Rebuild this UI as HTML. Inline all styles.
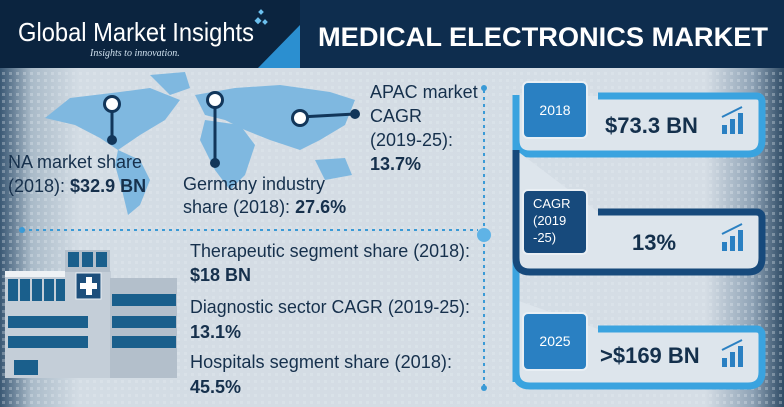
<!DOCTYPE html>
<html><head><meta charset="utf-8"><style>
html,body{margin:0;padding:0;width:784px;height:407px;overflow:hidden}
svg{display:block;font-family:"Liberation Sans",Arial,sans-serif}
</style></head><body>
<svg width="784" height="407" viewBox="0 0 784 407">
<defs>
<linearGradient id="bg" x1="0" y1="0" x2="1" y2="0">
<stop offset="0" stop-color="#3a5874"/><stop offset="0.04" stop-color="#a9bac8"/><stop offset="0.1" stop-color="#d3dce4"/><stop offset="0.9" stop-color="#d5dde5"/><stop offset="0.96" stop-color="#8fa3b6"/><stop offset="1" stop-color="#2e4a64"/>
</linearGradient>
<pattern id="dots" width="7" height="7" patternUnits="userSpaceOnUse"><rect x="2" y="2" width="3" height="3" fill="#e6ecf1" opacity="0.6"/></pattern>
</defs>
<rect width="784" height="407" fill="url(#bg)"/>
<rect y="68" width="784" height="339" fill="url(#dots)" opacity="0.5"/>
<g>
<rect width="784" height="68" fill="#0e2d4e"/>
<rect width="300" height="68" fill="#0b243f"/>
<polygon points="300,25 300,68 258,68" fill="#2b8fd0"/>
<text x="18" y="41" font-size="26" fill="#fff" textLength="236" lengthAdjust="spacingAndGlyphs">Global Market Insights</text>
<text x="90" y="56" font-size="10" font-style="italic" font-family="Liberation Serif,serif" fill="#cfe0ee">Insights to innovation.</text>
<g fill="#6cc0ee"><rect x="259" y="10" width="4" height="4" transform="rotate(45 261 12)"/><rect x="256" y="18" width="5" height="5" transform="rotate(45 258 20)"/><rect x="263" y="20" width="4" height="4" transform="rotate(45 265 22)"/></g>
<text x="318" y="46" font-size="27" font-weight="bold" fill="#fff" textLength="450" lengthAdjust="spacingAndGlyphs">MEDICAL ELECTRONICS MARKET</text>
</g>
<g fill="#7fb8e0">
<path d="M45,118 L70,98 L120,92 L150,88 L180,100 L165,120 L140,135 L118,150 L100,138 L75,125 Z"/>
<path d="M150,75 L185,72 L190,88 L170,95 Z"/>
<path d="M118,150 L140,160 L150,180 L140,205 L128,215 L122,190 L115,165 Z"/>
<path d="M195,95 L235,88 L280,85 L330,92 L355,100 L345,125 L320,140 L300,150 L270,140 L245,130 L225,120 L205,115 Z"/>
<path d="M205,120 L240,125 L255,145 L245,175 L230,190 L215,170 L200,140 Z"/>
<path d="M315,160 L345,158 L352,175 L325,180 Z"/>
</g>
<line x1="22" y1="230" x2="478" y2="230" stroke="#3a9ad6" stroke-width="2" stroke-dasharray="3,4"/>
<line x1="484" y1="90" x2="484" y2="388" stroke="#3a9ad6" stroke-width="2" stroke-dasharray="3,4"/>
<circle cx="484" cy="88" r="3" fill="#3a9ad6"/><circle cx="484" cy="388" r="3" fill="#3a9ad6"/>
<circle cx="484" cy="235" r="7" fill="#5fb3e6"/><circle cx="22" cy="230" r="3" fill="#3a9ad6"/>
<g><line x1="112" y1="110" x2="112" y2="140" stroke="#12365a" stroke-width="3"/><circle cx="112" cy="140" r="5" fill="#12365a"/><circle cx="112" cy="104" r="9" fill="#12365a"/><circle cx="112" cy="104" r="6" fill="#fff"/></g>
<g><line x1="215" y1="105" x2="215" y2="163" stroke="#12365a" stroke-width="3"/><circle cx="215" cy="163" r="5" fill="#12365a"/><circle cx="215" cy="100" r="9" fill="#12365a"/><circle cx="215" cy="100" r="6" fill="#fff"/></g>
<g><line x1="300" y1="117" x2="355" y2="114" stroke="#12365a" stroke-width="3"/><circle cx="355" cy="114" r="5" fill="#12365a"/><circle cx="300" cy="118" r="9" fill="#12365a"/><circle cx="300" cy="118" r="6" fill="#fff"/></g>
<g font-size="18" fill="#16304c">
<text x="370" y="98">APAC market</text>
<text x="370" y="122">CAGR</text>
<text x="370" y="146">(2019-25):</text>
<text x="370" y="170" font-weight="bold">13.7%</text>
<text x="8" y="168">NA market share</text>
<text x="8" y="192">(2018): <tspan font-weight="bold">$32.9 BN</tspan></text>
<text x="183" y="190">Germany industry</text>
<text x="183" y="213">share (2018): <tspan font-weight="bold">27.6%</tspan></text>
<text x="190" y="257" textLength="280" lengthAdjust="spacingAndGlyphs">Therapeutic segment share (2018):</text>
<text x="190" y="281" font-weight="bold">$18 BN</text>
<text x="190" y="313" textLength="280" lengthAdjust="spacingAndGlyphs">Diagnostic sector CAGR (2019-25):</text>
<text x="190" y="338" font-weight="bold">13.1%</text>
<text x="190" y="368" textLength="262" lengthAdjust="spacingAndGlyphs">Hospitals segment share (2018):</text>
<text x="190" y="393" font-weight="bold">45.5%</text>
</g>
<g>
<rect x="5" y="271" width="106" height="107" fill="#c4ced8"/>
<rect x="5" y="271" width="60" height="6" fill="#eef2f5"/>
<rect x="110" y="278" width="67" height="100" fill="#b3bfcb"/>
<rect x="65" y="250" width="45" height="22" fill="#b3bfcb"/>
<rect x="76" y="273" width="25" height="26" fill="#1d4f7c" stroke="#e9eff4" stroke-width="1"/>
<rect x="86" y="277" width="6" height="18" fill="#fff"/><rect x="80" y="283" width="17" height="6" fill="#fff"/>
<g fill="#1a5f8c">
<rect x="68" y="252" width="11" height="15"/><rect x="82" y="252" width="11" height="15"/><rect x="96" y="252" width="11" height="15"/>
<rect x="8" y="279" width="10" height="22"/><rect x="20" y="279" width="10" height="22"/><rect x="32" y="279" width="10" height="22"/><rect x="44" y="279" width="10" height="22"/><rect x="56" y="279" width="9" height="22"/>
<rect x="8" y="316" width="80" height="12"/><rect x="8" y="336" width="80" height="12"/>
<rect x="14" y="360" width="24" height="15"/>
<rect x="112" y="294" width="64" height="12"/><rect x="112" y="316" width="64" height="12"/><rect x="112" y="336" width="64" height="12"/>
</g></g>
<line x1="516" y1="95" x2="516" y2="382" stroke="#3aa3df" stroke-width="7"/>
<g>
<path d="M598,96 H756 Q762,96 762,102 V140 Q762,154 748,154 H530 Q516,154 516,140 V95" fill="#dde5ec" stroke="#3aa3df" stroke-width="7"/>
<rect x="523" y="82" width="64" height="56" rx="5" fill="#2a80c2" stroke="#e9eff4" stroke-width="2"/>
<text x="555" y="115" font-size="14" fill="#fff" text-anchor="middle">2018</text>
<text x="605" y="133" font-size="22" font-weight="bold" fill="#14304c">$73.3 BN</text>
</g>
<g>
<path d="M598,212 H756 Q762,212 762,218 V258 Q762,272 748,272 H530 Q516,272 516,258 V150" fill="#dde5ec" stroke="#174a7c" stroke-width="7"/>
<rect x="523" y="190" width="64" height="64" rx="5" fill="#174a7c" stroke="#e9eff4" stroke-width="2"/>
<text x="533" y="208" font-size="13" fill="#fff">CAGR</text>
<text x="533" y="225" font-size="13" fill="#fff">(2019</text>
<text x="533" y="242" font-size="13" fill="#fff">-25)</text>
<text x="632" y="250" font-size="22" font-weight="bold" fill="#14304c">13%</text>
</g>
<g>
<path d="M598,329 H756 Q762,329 762,335 V372 Q762,386 748,386 H530 Q516,386 516,372 V300" fill="#dde5ec" stroke="#3aa3df" stroke-width="7"/>
<rect x="523" y="313" width="64" height="57" rx="5" fill="#2a80c2" stroke="#e9eff4" stroke-width="2"/>
<text x="555" y="346" font-size="14" fill="#fff" text-anchor="middle">2025</text>
<text x="600" y="363" font-size="22" font-weight="bold" fill="#14304c">&gt;$169 BN</text>
</g>
<g fill="#2a80c2">
<g transform="translate(722,105)"><rect x="0" y="20" width="5" height="9"/><rect x="8" y="14" width="5" height="15"/><rect x="16" y="8" width="5" height="21"/><path d="M0,12 L20,2" stroke="#2a80c2" stroke-width="2"/></g>
<g transform="translate(722,222)"><rect x="0" y="20" width="5" height="9"/><rect x="8" y="14" width="5" height="15"/><rect x="16" y="8" width="5" height="21"/><path d="M0,12 L20,2" stroke="#2a80c2" stroke-width="2"/></g>
<g transform="translate(722,338)"><rect x="0" y="20" width="5" height="9"/><rect x="8" y="14" width="5" height="15"/><rect x="16" y="8" width="5" height="21"/><path d="M0,12 L20,2" stroke="#2a80c2" stroke-width="2"/></g>
</g>
</svg>
</body></html>
